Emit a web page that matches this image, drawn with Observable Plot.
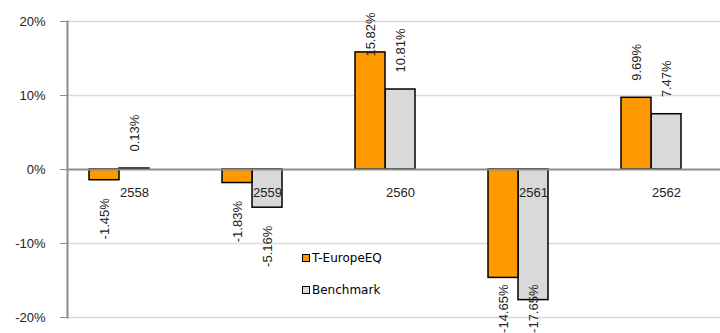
<!DOCTYPE html>
<html><head><meta charset="utf-8">
<script src="https://cdn.jsdelivr.net/npm/d3@7"></script>
<script src="https://cdn.jsdelivr.net/npm/@observablehq/plot@0.6"></script>
<style>
body{margin:0;background:#fff;}
#wrap{position:relative;width:720px;height:333px;overflow:hidden;}
#legend{position:absolute;left:302px;top:249px;font:12px "DejaVu Sans",sans-serif;color:#000;}
.item{display:flex;align-items:center;height:18px;margin-bottom:14px;}
.sw{width:6px;height:6px;border:1.5px solid #000;margin-right:2px;}
</style></head>
<body><div id="wrap"><div id="chart"></div><div id="legend"></div></div>
<script>
const years = ["2558", "2559", "2560", "2561", "2562"];
const seriesNames = ["T-EuropeEQ", "Benchmark"];
const fundValues = [-1.45, -1.83, 15.82, -14.65, 9.69];
const benchValues = [0.13, -5.16, 10.81, -17.65, 7.47];
const yTicks = [-20, -10, 0, 10, 20];
const colors = ["#ff9900", "#d9d9d9"];

const rows = years.flatMap((year, i) => [
  {year, series: seriesNames[0], value: fundValues[i]},
  {year, series: seriesNames[1], value: benchValues[i]}
]);
const yMin = d3.min(yTicks), yMax = d3.max(yTicks);
const bw = 30;
const clampHi = 13, clampLo = -12;

function seriesMarks(name, color, dx) {
  const data = rows.filter(d => d.series === name);
  const common = {x: "year", text: d => d.value.toFixed(2) + "%", rotate: -90, dx, fill: "#222", fontSize: 13};
  return [
    Plot.barY(data, {x: "year", y: "value", dx, fill: color, stroke: "#000", strokeWidth: 1.5}),
    Plot.text(data.filter(d => d.value >= 0 && d.value <= clampHi), {...common, y: "value", textAnchor: "start", dy: -17}),
    Plot.text(data.filter(d => d.value > clampHi), {...common, y: () => yMax, textAnchor: "end", dy: -9}),
    Plot.text(data.filter(d => d.value < 0 && d.value >= clampLo), {...common, y: "value", textAnchor: "end", dy: 18}),
    Plot.text(data.filter(d => d.value < clampLo), {...common, y: () => yMin, textAnchor: "end", dy: -33})
  ];
}

const chart = Plot.plot({
  width: 720, height: 333,
  marginLeft: 67, marginRight: 0, marginTop: 21, marginBottom: 16,
  style: {fontFamily: '"Liberation Sans", Arial, sans-serif', fontSize: "13px", background: "#fff", color: "#222"},
  x: {domain: years, range: [67, 732], paddingInner: 103 / 133, paddingOuter: 51.5 / 133, axis: null},
  y: {domain: [yMin, yMax], axis: null},
  marks: [
    Plot.ruleY(yTicks.filter(t => t !== 0), {stroke: "#d9d9d9", strokeWidth: 1.5}),
    ...seriesMarks(seriesNames[1], colors[1], 0).slice(0, 1),
    ...seriesMarks(seriesNames[0], colors[0], -bw).slice(0, 1),
    Plot.ruleY([0], {stroke: "#8c8c8c", strokeWidth: 2}),
    Plot.frame({anchor: "left", stroke: "#8c8c8c", strokeWidth: 2}),
    Plot.axisY({ticks: yTicks, tickFormat: d => d + "%", tickSize: 7, tickPadding: 15, label: null, stroke: "#8c8c8c", fill: "#222", fontSize: 13}),
    Plot.text(years, {x: d => d, y: () => 0, dy: 23, fill: "#222", fontSize: 13}),
    ...seriesMarks(seriesNames[0], colors[0], -bw).slice(1),
    ...seriesMarks(seriesNames[1], colors[1], 0).slice(1)
  ]
});
document.getElementById("chart").appendChild(chart);

const legend = document.getElementById("legend");
seriesNames.forEach((name, i) => {
  const item = document.createElement("div");
  item.className = "item";
  const sw = document.createElement("div");
  sw.className = "sw";
  sw.style.background = colors[i];
  const label = document.createElement("span");
  label.textContent = name;
  item.appendChild(sw);
  item.appendChild(label);
  legend.appendChild(item);
});
</script>
</body></html>
